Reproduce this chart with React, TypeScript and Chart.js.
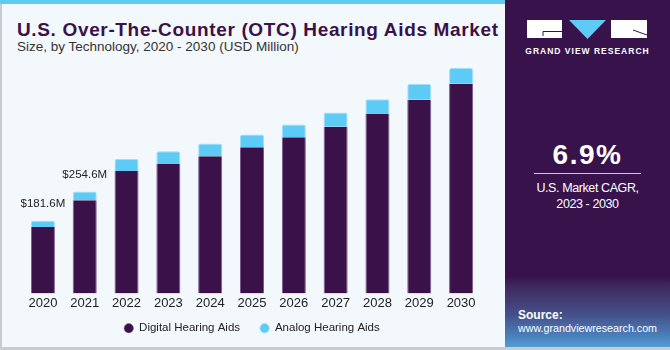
import React, { useEffect, useRef } from "react";
import { Chart, registerables } from "chart.js";

Chart.register(...registerables);

const years = ["2020", "2021", "2022", "2023", "2024", "2025", "2026", "2027", "2028", "2029", "2030"];
const digital = [165.8, 232.5, 305.8, 323.3, 342.5, 365.0, 390.0, 415.8, 449.3, 483.3, 523.3];
const analog = [15.8, 22.1, 30.0, 31.7, 31.8, 31.8, 31.8, 36.0, 35.0, 39.2, 39.2];
const totalLabels = ["$181.6M", "$254.6M", "", "", "", "", "", "", "", "", ""];
const seriesNames = ["Digital Hearing Aids", "Analog Hearing Aids"];

const DIGITAL = "#3a1148";
const ANALOG = "#5ecbf7";
const FONT = "'Liberation Sans', Arial, sans-serif";

const labelPlugin = {
  id: "totalLabels",
  afterLayout(chart: any) {
    // let the x tick labels extend below the (shortened) axis box without being clipped
    const x = chart.scales.x;
    if (x) x.bottom = x.top + 22;
  },
  afterDatasetsDraw(chart: any) {
    const meta = chart.getDatasetMeta(1);
    const ctx = chart.ctx;
    ctx.save();
    ctx.font = `11.5px ${FONT}`;
    ctx.fillStyle = "#222";
    ctx.textAlign = "center";
    ctx.textBaseline = "middle";
    meta.data.forEach((bar: any, i: number) => {
      const t = totalLabels[i];
      if (t) ctx.fillText(t, bar.x, bar.y - 16.5);
    });
    ctx.restore();
  },
};

function ChartCanvas() {
  const ref = useRef<HTMLCanvasElement | null>(null);
  useEffect(() => {
    if (!ref.current) return;
    const chart = new Chart(ref.current, {
      type: "bar",
      data: {
        labels: years,
        datasets: [
          {
            label: seriesNames[0],
            data: digital,
            backgroundColor: DIGITAL,
            borderColor: "#7a5a8c",
            borderWidth: { left: 1, right: 1, top: 0, bottom: 0 },
            categoryPercentage: 1,
            barPercentage: 0.575,
          },
          {
            label: seriesNames[1],
            data: analog,
            backgroundColor: ANALOG,
            borderColor: "#9fdffa",
            borderWidth: { left: 1, right: 1, top: 1, bottom: 0 },
            borderRadius: { topLeft: 2, topRight: 2, bottomLeft: 0, bottomRight: 0 },
            borderSkipped: "bottom",
            categoryPercentage: 1,
            barPercentage: 0.575,
          },
        ],
      },
      options: {
        responsive: false,
        animation: false,
        devicePixelRatio: 1,
        layout: { padding: { left: 22, right: 21, top: 4, bottom: 4 } },
        scales: {
          x: {
            stacked: true,
            grid: { display: false, drawTicks: false },
            border: { display: false },
            ticks: { color: "#222", font: { family: FONT, size: 13, lineHeight: 1 }, padding: 3.5 },
            afterFit: (scale: any) => {
              scale.height = 9;
            },
          },
          y: { stacked: true, display: false, min: 0, max: 582.5 },
        },
        plugins: {
          legend: {
            position: "bottom",
            labels: {
              usePointStyle: true,
              pointStyle: "circle",
              boxWidth: 9.1,
              boxHeight: 6.6,
              padding: 20,
              color: "#222",
              font: { family: FONT, size: 11.5 },
            },
          },
          tooltip: { enabled: false },
        },
      },
      plugins: [labelPlugin],
    } as any);
    return () => chart.destroy();
  }, []);
  return (
    <canvas
      ref={ref}
      width={503}
      height={292}
      style={{ position: "absolute", left: 0, top: 56, width: 503, height: 292 }}
    />
  );
}

export default function App() {
  return (
    <div
      style={{
        position: "fixed",
        left: 0,
        top: 0,
        width: 670,
        height: 350,
        background: "#f3f8fc",
        overflow: "hidden",
        fontFamily: FONT,
      }}
    >
      <div style={{ position: "absolute", left: 0, top: 0, width: 2, height: 350, background: "#c9cdd2" }} />
      <div style={{ position: "absolute", left: 0, top: 0, width: 506, height: 4, background: "#5ecbf0" }} />
      <div
        style={{
          position: "absolute",
          left: 17,
          top: 20,
          fontSize: 19,
          lineHeight: "19px",
          fontWeight: 700,
          letterSpacing: 0.65,
          color: "#3a1148",
          whiteSpace: "nowrap",
        }}
      >
        U.S. Over-The-Counter (OTC) Hearing Aids Market
      </div>
      <div
        style={{
          position: "absolute",
          left: 17,
          top: 40,
          fontSize: 13.5,
          lineHeight: "13.5px",
          color: "#333",
          whiteSpace: "nowrap",
        }}
      >
        Size, by Technology, 2020 - 2030 (USD Million)
      </div>
      <ChartCanvas />
      <div
        style={{
          position: "absolute",
          left: 505,
          top: 0,
          width: 165,
          height: 350,
          background:
            "linear-gradient(180deg, #38124a 0%, #38124a 79%, #3f2a5e 82%, #45508a 90%, #4a80bc 96%, #55a6da 100%)",
        }}
      >
        <svg width={165} height={60} style={{ position: "absolute", left: 0, top: 0 }}>
          <rect x={22} y={20} width={35} height={18} fill="#ffffff" />
          <path d="M38 31.5 H57 M38 31.5 V36" stroke="#38124a" strokeWidth={1} fill="none" />
          <polygon points="64,20 101,20 82.5,39" fill="#5ecbf7" />
          <rect x={106} y={20} width={36} height={18} fill="#ffffff" />
          <path d="M128 30 L142 35" stroke="#38124a" strokeWidth={1} fill="none" />
        </svg>
        <div
          style={{
            position: "absolute",
            left: 0,
            top: 46,
            width: 165,
            textAlign: "center",
            color: "#fff",
            fontSize: 8.5,
            fontWeight: 700,
            letterSpacing: 1.0,
            whiteSpace: "nowrap",
          }}
        >
          GRAND VIEW RESEARCH
        </div>
        <div
          style={{
            position: "absolute",
            left: 0,
            top: 141,
            width: 165,
            textAlign: "center",
            color: "#fff",
            fontSize: 28,
            lineHeight: "28px",
            fontWeight: 700,
            letterSpacing: 1.5,
          }}
        >
          6.9%
        </div>
        <div style={{ position: "absolute", left: 29, top: 173, width: 107, height: 1, background: "#cfc6d6" }} />
        <div
          style={{
            position: "absolute",
            left: 0,
            top: 180,
            width: 165,
            textAlign: "center",
            color: "#fff",
            fontSize: 12.5,
            lineHeight: "16px",
            letterSpacing: -0.4,
          }}
        >
          U.S. Market CAGR,
          <br />
          2023 - 2030
        </div>
        <div
          style={{
            position: "absolute",
            left: 13,
            top: 309,
            color: "#fff",
            fontSize: 10.7,
            lineHeight: "13px",
            whiteSpace: "nowrap",
          }}
        >
          <b style={{ fontSize: 12 }}>Source:</b>
          <br />
          www.grandviewresearch.com
        </div>
      </div>
      <div style={{ position: "absolute", left: 0, top: 347, width: 670, height: 3, background: "#c9cdd2" }} />
    </div>
  );
}
